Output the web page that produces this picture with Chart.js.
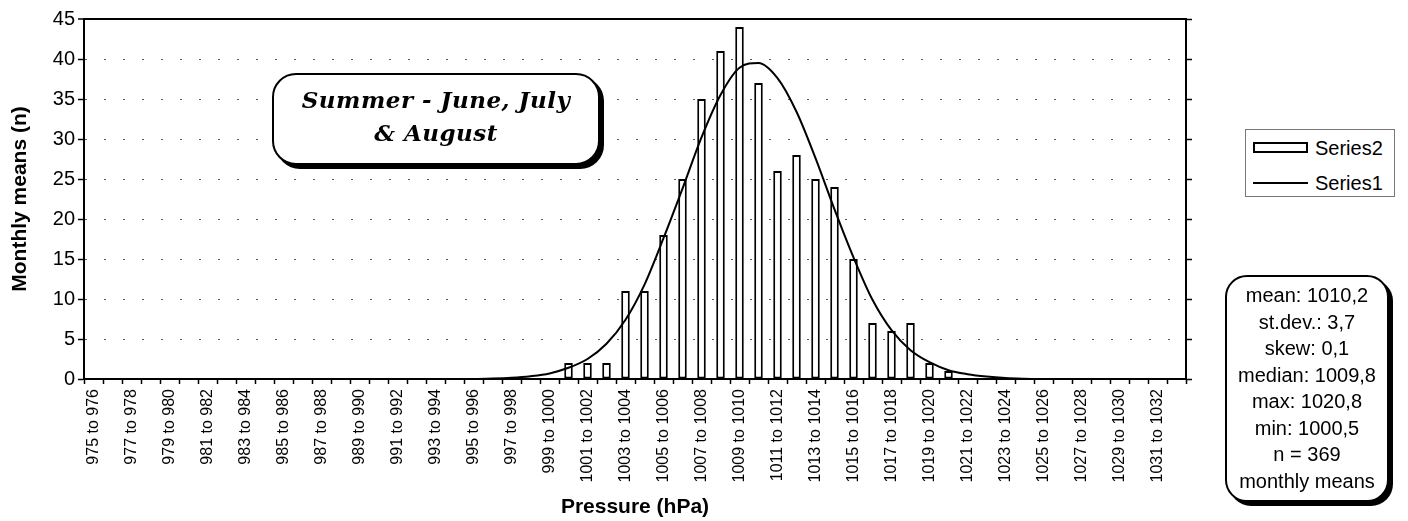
<!DOCTYPE html>
<html>
<head>
<meta charset="utf-8">
<script src="https://cdn.jsdelivr.net/npm/chart.js@4"></script>
<style>
  html, body { margin: 0; padding: 0; background: #fff; }
  #wrap { position: relative; width: 1408px; height: 521px; font-family: "Liberation Sans", Arial, sans-serif; color: #000; }
  #pressureChart { position: absolute; left: 0; top: 0; }
  .note { position: absolute; box-sizing: border-box; background: #fff; border: 2px solid #000; box-shadow: 4px 4px 0 #000; text-align: center; }
  #titleBox { left: 272px; top: 73px; width: 328px; height: 92px; border-radius: 24px; padding-top: 8px;
    font: italic bold 23px/33px "DejaVu Serif", serif; letter-spacing: 0.5px; }
  #statsBox { left: 1225px; top: 275px; width: 164px; height: 227px; border-radius: 22px; padding-top: 5px;
    font-size: 20px; line-height: 26.5px; }
  #legend { position: absolute; left: 1245px; top: 129px; width: 150px; height: 68px; box-sizing: border-box;
    border: 1px solid #777; background: #fff; font-size: 20px; }
  .row { position: absolute; left: 0; height: 24px; line-height: 24px; }
  .row span { position: absolute; left: 69px; white-space: nowrap; }
  .swatchBar { position: absolute; left: 7px; top: 6px; width: 55px; height: 11px; box-sizing: border-box; border: 2px solid #000; background: #fff; }
  .swatchLine { position: absolute; left: 7px; top: 11px; width: 55px; height: 2px; background: #000; }
</style>
</head>
<body>
<div id="wrap">
  <canvas id="pressureChart" width="1408" height="521"></canvas>
  <div id="titleBox" class="note">Summer - June, July<br>&amp; August</div>
  <div id="legend">
    <div class="row" style="top:6px"><div class="swatchBar"></div><span id="lab0"></span></div>
    <div class="row" style="top:41px"><div class="swatchLine"></div><span id="lab1"></span></div>
  </div>
  <div id="statsBox" class="note"></div>
</div>
<script>
// pressure classes (hPa)
const categories = [
  "975 to 976", "976 to 977", "977 to 978", "978 to 979", "979 to 980", "980 to 981",
  "981 to 982", "982 to 983", "983 to 984", "984 to 985", "985 to 986", "986 to 987",
  "987 to 988", "988 to 989", "989 to 990", "990 to 991", "991 to 992", "992 to 993",
  "993 to 994", "994 to 995", "995 to 996", "996 to 997", "997 to 998", "998 to 999",
  "999 to 1000", "1000 to 1001", "1001 to 1002", "1002 to 1003", "1003 to 1004", "1004 to 1005",
  "1005 to 1006", "1006 to 1007", "1007 to 1008", "1008 to 1009", "1009 to 1010", "1010 to 1011",
  "1011 to 1012", "1012 to 1013", "1013 to 1014", "1014 to 1015", "1015 to 1016", "1016 to 1017",
  "1017 to 1018", "1018 to 1019", "1019 to 1020", "1020 to 1021", "1021 to 1022", "1022 to 1023",
  "1023 to 1024", "1024 to 1025", "1025 to 1026", "1026 to 1027", "1027 to 1028", "1028 to 1029",
  "1029 to 1030", "1030 to 1031", "1031 to 1032", "1032 to 1033"
];

// histogram counts (Series2)
const counts = [
  0, 0, 0, 0, 0, 0, 0, 0, 0, 0, 0, 0, 0, 0, 0, 0, 0, 0, 0, 0, 0, 0, 0, 0, 0,
  2, 2, 2, 11, 11, 18, 25, 35, 41, 44, 37, 26, 28, 25, 24, 15, 7, 6, 7, 2, 1,
  0, 0, 0, 0, 0, 0, 0, 0, 0, 0, 0, 0
];

// fitted curve (Series1)
const curve = [
  0, 0, 0, 0, 0, 0, 0, 0, 0, 0, 0, 0, 0, 0, 0, 0, 0, 0, 0, 0, 0,
  0.05, 0.15, 0.35, 0.7, 1.4, 2.5, 4.4, 7.4, 11.8, 17.6, 23.8, 30.2, 35.5, 38.9,
  39.5, 37.6, 33.4, 27.6, 21.2, 15.2, 9.9, 6.1, 3.6, 2.1, 1.1, 0.6, 0.3, 0.12, 0.04,
  0, 0, 0, 0, 0, 0, 0, 0
];

const seriesNames = ["Series2", "Series1"];
const yTicks = [0, 5, 10, 15, 20, 25, 30, 35, 40, 45];
const statLines = ["mean: 1010,2", "st.dev.: 3,7", "skew: 0,1", "median: 1009,8",
  "max: 1020,8", "min: 1000,5", "n = 369", "monthly means"];

const sans = '"Liberation Sans", Arial, sans-serif';

document.getElementById("lab0").textContent = seriesNames[0];
document.getElementById("lab1").textContent = seriesNames[1];
document.getElementById("statsBox").innerHTML = statLines.join("<br>");

const ctx = document.getElementById("pressureChart").getContext("2d");
const chart = new Chart(ctx, {
  type: "bar",
  data: {
    labels: categories,
    datasets: [
      {
        label: seriesNames[0],
        data: counts,
        backgroundColor: "#fff",
        borderColor: "#000",
        borderWidth: 2,
        borderSkipped: false,
        barPercentage: 0.45,
        categoryPercentage: 1,
        order: 2,
      },
      {
        type: "line",
        label: seriesNames[1],
        data: curve,
        borderColor: "#000",
        borderWidth: 2,
        pointRadius: 0,
        cubicInterpolationMode: "monotone",
        fill: false,
        order: 1,
      },
    ],
  },
  options: {
    responsive: false,
    animation: false,
    layout: { padding: { top: 19, right: 214, bottom: 0, left: 0 } },
    plugins: {
      legend: { display: false },
      tooltip: { enabled: false },
    },
    scales: {
      x: {
        offset: true,
        grid: { display: true, offset: true, drawOnChartArea: false, drawTicks: true, tickLength: 5, tickColor: "#000", tickWidth: 1.5 },
        border: { display: true, color: "#000", width: 2 },
        ticks: {
          autoSkip: false,
          minRotation: 90,
          maxRotation: 90,
          padding: 5,
          color: "#000",
          font: { family: sans, size: 16 },
          callback: (v, i) => (i % 2 === 0 ? categories[i] : ""),
        },
        title: { display: true, text: "Pressure (hPa)", color: "#000", font: { family: sans, size: 21, weight: "bold" }, padding: { top: 0, bottom: 1 } },
        afterFit: (s) => { s.height = 142; },
      },
      y: {
        min: 0,
        max: 45,
        afterBuildTicks: (s) => { s.ticks = yTicks.map((v) => ({ value: v })); },
        grid: {
          color: (c) => (c.tick && c.tick.value === 45 ? "#000" : "#555"),
          lineWidth: (c) => (c.tick && c.tick.value === 45 ? 2 : 1),
          tickLength: 6,
          tickColor: "#000",
          tickWidth: 1.5,
        },
        border: {
          display: true,
          color: "#000",
          width: 2,
          dash: (c) => (c.tick && c.tick.value === 45 ? [] : [2, 17]),
        },
        ticks: { color: "#000", padding: 3, font: { family: sans, size: 20 } },
        title: { display: true, text: "Monthly means (n)", color: "#000", font: { family: sans, size: 21, weight: "bold" }, padding: { top: 8, bottom: 0 } },
        afterFit: (s) => { s.width = 84; },
      },
      y2: {
        position: "right",
        min: 0,
        max: 45,
        afterBuildTicks: (s) => { s.ticks = yTicks.map((v) => ({ value: v })); },
        grid: { drawOnChartArea: false, drawTicks: true, tickLength: 6, tickColor: "#000", tickWidth: 1.5 },
        border: { display: true, color: "#000", width: 2 },
        ticks: { display: false },
        afterFit: (s) => { s.width = 8; },
      },
    },
  },
});
</script>
</body>
</html>
